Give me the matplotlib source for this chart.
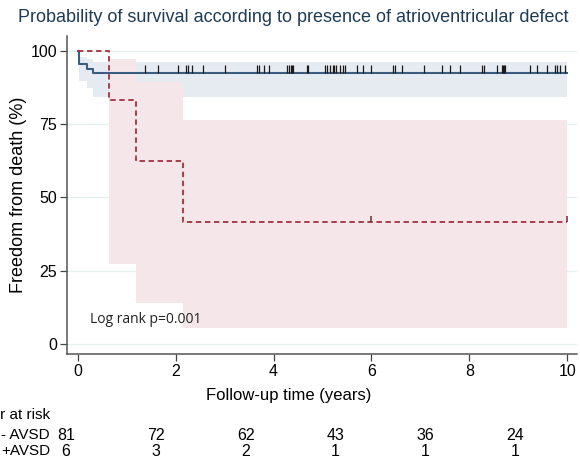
import matplotlib
matplotlib.use("Agg")
import matplotlib.pyplot as plt

plt.rcParams['font.family'] = ['Liberation Sans', 'DejaVu Sans']

# Kaplan-Meier steps, -AVSD (solid blue)
neg_t = [0, 0.03, 0.18, 0.31, 10]
neg_s = [100, 95.5, 93.8, 92.5, 92.5]
neg_lo = [100, 89.8, 87.2, 84.3, 84.3]
neg_hi = [100, 98.0, 97.2, 96.3, 96.3]
neg_cens = [1.37, 1.64, 2.05, 2.22, 2.26, 2.34, 2.55, 3.01, 3.67, 3.70, 3.80, 3.91,
            4.28, 4.32, 4.35, 4.38, 4.40, 4.68, 4.71, 5.05, 5.10, 5.15, 5.21, 5.24,
            5.28, 5.36, 5.41, 5.45, 5.70, 5.82, 5.99, 6.44, 6.48, 6.62, 7.08, 7.44,
            7.61, 7.80, 8.26, 8.30, 8.56, 8.66, 8.68, 8.71, 8.73, 9.23, 9.38, 9.58,
            9.75, 9.80, 9.85, 9.96]

# +AVSD (dashed red)
pos_t = [0, 0.64, 1.19, 2.14, 10]
pos_s = [100, 83.3, 62.5, 41.7, 41.7]
pos_ci_t = [0.64, 1.19, 2.14, 10]
pos_lo = [27.4, 14.1, 5.6, 5.6]
pos_hi = [97.2, 89.2, 76.3, 76.3]
pos_cens = [6.0, 10.0]

risk_labels = ["- AVSD", "+AVSD"]
risk_neg = [81, 72, 62, 43, 36, 24]
risk_pos = [6, 3, 2, 1, 1, 1]

W, H = 580, 461
fig = plt.figure(figsize=(W / 100, H / 100), dpi=100)
ax = fig.add_axes([67 / W, (H - 354) / H, (577 - 67) / W, (354 - 36) / H])

blue = '#3b5d80'
red = '#a5303f'

ax.fill_between(neg_t, neg_lo, neg_hi, step='post', color='#e6ebf2', lw=0, zorder=1)
ax.fill_between(pos_ci_t, pos_lo, pos_hi, step='post', color='#f5e7e9', lw=0, zorder=1)

for y in [0, 25, 50, 75, 100]:
    ax.axhline(y, color='#e4f0f0', lw=0.9, zorder=0)

ax.step(neg_t, neg_s, where='post', color=blue, lw=1.5, zorder=3)
ax.step(pos_t, pos_s, where='post', color=red, lw=1.3, ls=(0, (3, 2)), zorder=3)

ax.vlines(neg_cens, 92.5, 95.0, color='#1a1a1a', lw=0.9, zorder=4)
ax.vlines(pos_cens, 41.7, 43.8, color='#6a2a35', lw=1.1, zorder=5)

ax.text(0.26, 8.5, "Log rank p=0.001", fontsize=10, family=['Open Sans', 'DejaVu Sans'],
        color='#222222', va='center', ha='left')

ax.set_xlim(-0.22, 10.2)
ax.set_ylim(-3.4, 105)
ax.set_xticks([0, 2, 4, 6, 8, 10])
ax.set_yticks([0, 25, 50, 75, 100])
ax.tick_params(axis='both', labelsize=11.5, length=5, width=0.9, color='#444444', pad=2)
for s in ['top', 'right']:
    ax.spines[s].set_visible(False)
for s in ['left', 'bottom']:
    ax.spines[s].set_color('#555555')
    ax.spines[s].set_linewidth(1.1)
ax.set_ylabel("Freedom from death (%)", fontsize=13)
ax.yaxis.set_label_coords(-0.078, 0.5)

fig.text(293 / W, 1 - 17 / H,
         "Probability of survival according to presence of atrioventricular defect",
         fontsize=13, color='#1f3b57', ha='center', va='center')
fig.text(289 / W, 1 - 395 / H, "Follow-up time (years)", fontsize=12,
         ha='center', va='center')

# the risk table header is clipped at the left edge, as in the source figure
fig.text(50 / W, 1 - 415 / H, "Number at risk", fontsize=11, ha='right', va='center')
row_y = [435, 451]
for lab, vals, yy in zip(risk_labels, [risk_neg, risk_pos], row_y):
    fig.text(1 / W, 1 - yy / H, lab, fontsize=11, ha='left', va='center')
    for i, v in enumerate(vals):
        fig.text((66 + 89.8 * i) / W, 1 - yy / H, str(v), fontsize=11.5,
                 ha='center', va='center')

fig.savefig("out.png", dpi=100)
